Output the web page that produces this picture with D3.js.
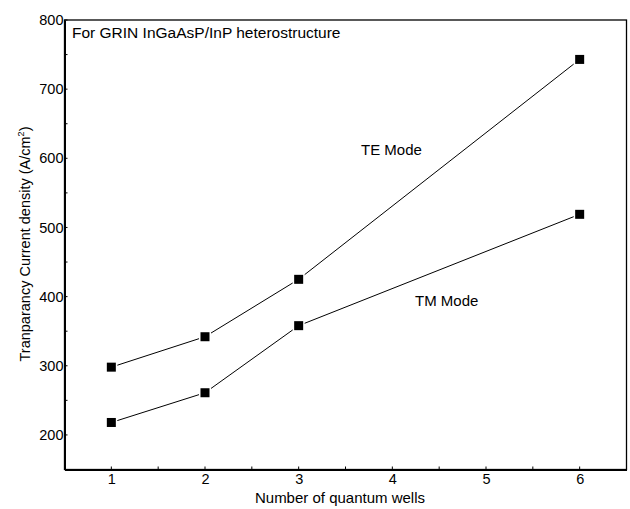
<!DOCTYPE html>
<html>
<head>
<meta charset="utf-8">
<script src="https://cdn.jsdelivr.net/npm/d3@7"></script>
<style>
  html, body { margin: 0; padding: 0; background: #fff; }
  svg { display: block; font-family: "Liberation Sans", Arial, sans-serif; }
</style>
</head>
<body>
<svg id="chart" width="630" height="509"></svg>
<script>
// Number of quantum wells at which the current density was computed
const wells = [1, 2, 3, 6];
// Transparency current density (A/cm^2) for each polarisation mode
const teMode = [298, 342, 425, 743];
const tmMode = [218, 261, 358, 519];
const xTicks = [1, 2, 3, 4, 5, 6];
const yTicks = [200, 300, 400, 500, 600, 700, 800];

const svg = d3.select("#chart");
const m = { left: 64.5, right: 626.5, top: 20, bottom: 469.5 };

const x = d3.scaleLinear().domain([0.5, 6.5]).range([m.left, m.right]);
const y = d3.scaleLinear().domain([150, 800]).range([m.bottom, m.top]);

// Frame: thin top/right, heavier left/bottom axes
svg.append("rect")
  .attr("x", m.left).attr("y", m.top)
  .attr("width", m.right - m.left).attr("height", m.bottom - m.top)
  .attr("fill", "none").attr("stroke", "#000").attr("stroke-width", 1.3);

// Bottom axis with inward ticks; minor ticks at half steps
const xAxis = d3.axisBottom(x).tickValues(xTicks).tickSize(0).tickPadding(4).tickFormat(d3.format("d"));
const gx = svg.append("g").attr("transform", `translate(0,${m.bottom})`).call(xAxis);
gx.select(".domain").attr("stroke-width", 2);
gx.selectAll(".tick text").attr("font-size", 14.5).attr("fill", "#000").attr("font-family", "Liberation Sans, Arial, sans-serif");
gx.selectAll(".minor").data(d3.range(1.5, 6.5, 1)).enter().append("line")
  .attr("x1", d => x(d)).attr("x2", d => x(d)).attr("y1", 0).attr("y2", -3)
  .attr("stroke", "#000").attr("stroke-width", 1);
gx.selectAll(".major").data(xTicks).enter().append("line")
  .attr("x1", d => x(d)).attr("x2", d => x(d)).attr("y1", 0).attr("y2", -3)
  .attr("stroke", "#000").attr("stroke-width", 1);

// Left axis with inward ticks; minor ticks at 50s
const yAxis = d3.axisLeft(y).tickValues(yTicks).tickSize(0).tickPadding(1).tickFormat(d3.format("d"));
const gy = svg.append("g").attr("transform", `translate(${m.left},0)`).call(yAxis);
gy.select(".domain").attr("stroke-width", 2);
gy.selectAll(".tick text").attr("font-size", 14.5).attr("fill", "#000").attr("font-family", "Liberation Sans, Arial, sans-serif");
gy.selectAll(".minor").data(d3.range(250, 800, 100)).enter().append("line")
  .attr("x1", 0).attr("x2", 3).attr("y1", d => y(d)).attr("y2", d => y(d))
  .attr("stroke", "#000").attr("stroke-width", 1);
gy.selectAll(".major").data(yTicks).enter().append("line")
  .attr("x1", 0).attr("x2", 3).attr("y1", d => y(d)).attr("y2", d => y(d))
  .attr("stroke", "#000").attr("stroke-width", 1);

// Series lines and square markers
const line = d3.line().x(d => x(d[0])).y(d => y(d[1]));
[teMode, tmMode].forEach(vals => {
  const pts = wells.map((w, i) => [w, vals[i]]);
  svg.append("path").datum(pts).attr("d", line)
    .attr("fill", "none").attr("stroke", "#000").attr("stroke-width", 1);
  svg.selectAll(null).data(pts).enter().append("rect")
    .attr("x", d => x(d[0]) - 4.5).attr("y", d => y(d[1]) - 4.5)
    .attr("width", 9).attr("height", 9)
    .attr("fill", "#000").attr("stroke", "#fff").attr("stroke-width", 3)
    .attr("paint-order", "stroke");
});

// Annotations
svg.append("text").attr("x", 72).attr("y", 38).attr("font-size", 15.5)
  .text("For GRIN InGaAsP/InP heterostructure");
svg.append("text").attr("x", 361).attr("y", 155).attr("font-size", 15).text("TE Mode");
svg.append("text").attr("x", 415).attr("y", 305.5).attr("font-size", 15).text("TM Mode");

// Axis titles
svg.append("text").attr("x", 340).attr("y", 503)
  .attr("text-anchor", "middle").attr("font-size", 15).text("Number of quantum wells");
const yl = svg.append("text")
  .attr("transform", "translate(30,244) rotate(-90)")
  .attr("text-anchor", "middle").attr("font-size", 14.5);
yl.append("tspan").text("Tranparancy Current density (A/cm");
yl.append("tspan").attr("dy", -6).attr("font-size", 9).text("2");
yl.append("tspan").attr("dy", 6).text(")");
</script>
</body>
</html>
